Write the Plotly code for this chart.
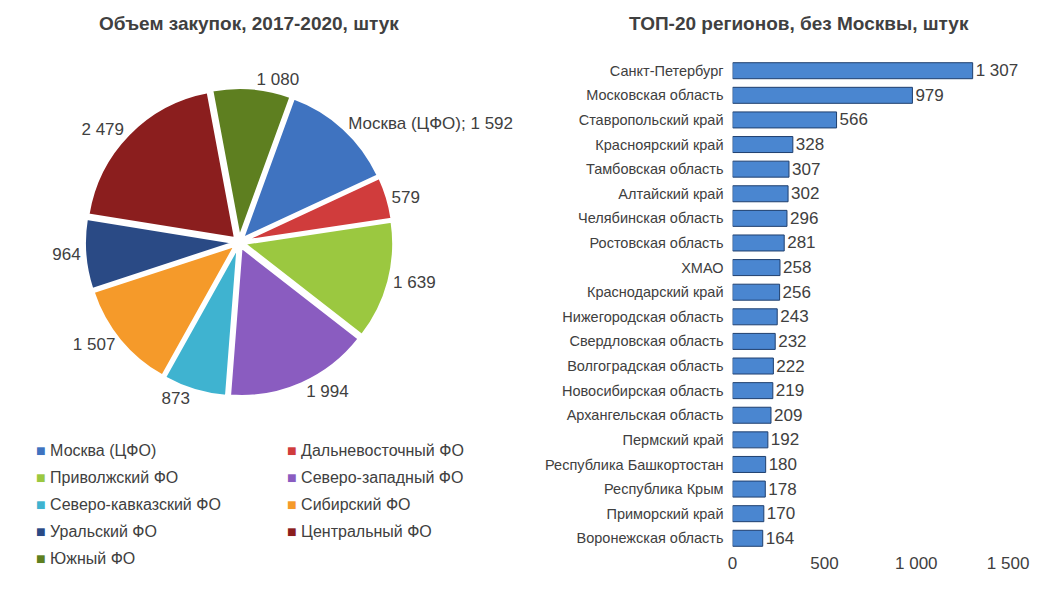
import plotly.graph_objects as go

pie_labels = ["Москва (ЦФО)", "Дальневосточный ФО", "Приволжский ФО", "Северо-западный ФО",
              "Северо-кавказский ФО", "Сибирский ФО", "Уральский ФО", "Центральный ФО", "Южный ФО"]
pie_values = [1592, 579, 1639, 1994, 873, 1507, 964, 2479, 1080]
pie_colors = ["#3f73c0", "#d03c3c", "#9bc840", "#8a5cc0", "#3fb3d0", "#f59a2a", "#2a4a85", "#8b1e1e", "#5e7f20"]

regions = ["Санкт-Петербург", "Московская область", "Ставропольский край", "Красноярский край",
           "Тамбовская область", "Алтайский край", "Челябинская область", "Ростовская область",
           "ХМАО", "Краснодарский край", "Нижегородская область", "Свердловская область",
           "Волгоградская область", "Новосибирская область", "Архангельская область",
           "Пермский край", "Республика Башкортостан", "Республика Крым", "Приморский край",
           "Воронежская область"]
region_values = [1307, 979, 566, 328, 307, 302, 296, 281, 258, 256, 243, 232, 222, 219, 209, 192, 180, 178, 170, 164]
x_ticks = [0, 500, 1000, 1500]

def fmt(v):
    return f"{v:,}".replace(",", " ")

pie_text = [("Москва (ЦФО); " + fmt(v)) if i == 0 else fmt(v) for i, v in enumerate(pie_values)]

fig = go.Figure()
fig.add_trace(go.Pie(
    labels=pie_labels, values=pie_values, sort=False, direction="clockwise", rotation=20,
    marker=dict(colors=pie_colors, line=dict(color="white", width=2)),
    pull=[0.04] * len(pie_values), text=pie_text, textinfo="text", textposition="outside",
    textfont=dict(size=17, color="#404040"), domain=dict(x=[0.07, 0.37], y=[0.33, 0.88]),
    hoverinfo="label+value", showlegend=False))

fig.add_trace(go.Bar(
    y=regions, x=region_values, orientation="h", showlegend=False,
    marker=dict(color="#4a86d0", line=dict(color="#1f3f6e", width=1)),
    text=[fmt(v) for v in region_values], textposition="outside", cliponaxis=False,
    constraintext="none",
    textfont=dict(size=17, color="#404040"), width=0.65, xaxis="x", yaxis="y"))

annotations = [
    dict(text="<b>Объем закупок, 2017-2020, штук</b>", x=0.23, y=0.995, xref="paper", yref="paper",
         xanchor="center", yanchor="top", showarrow=False, font=dict(size=19, color="#404040")),
    dict(text="<b>ТОП-20 регионов, без Москвы, штук</b>", x=0.765, y=0.995, xref="paper", yref="paper",
         xanchor="center", yanchor="top", showarrow=False, font=dict(size=19, color="#404040")),
]
for i, (lab, col) in enumerate(zip(pie_labels, pie_colors)):
    col_i, row_i = i % 2, i // 2
    x = 0.02 + col_i * 0.245
    y = 0.253 - row_i * 0.0455
    annotations.append(dict(text=f"<span style='color:{col}'>■</span> {lab}", x=x, y=y,
                            xref="paper", yref="paper", xanchor="left", yanchor="middle",
                            showarrow=False, font=dict(size=16, color="#404040")))

fig.update_layout(
    width=1054, height=593, paper_bgcolor="white", plot_bgcolor="white",
    margin=dict(l=0, r=0, t=0, b=0),
    font=dict(family="Liberation Sans, Arial", color="#404040"),
    xaxis=dict(domain=[0.7, 0.968], range=[0, 1500], tickvals=x_ticks,
               ticktext=[fmt(v) for v in x_ticks], showgrid=False, zeroline=False,
               tickfont=dict(size=17), anchor="y"),
    yaxis=dict(domain=[0.085, 0.915], autorange="reversed", tickfont=dict(size=14.5),
               ticks="", showline=False, anchor="x", ticksuffix="  "),
    bargap=0.3,
    annotations=annotations,
)
fig.write_html("out.html")
